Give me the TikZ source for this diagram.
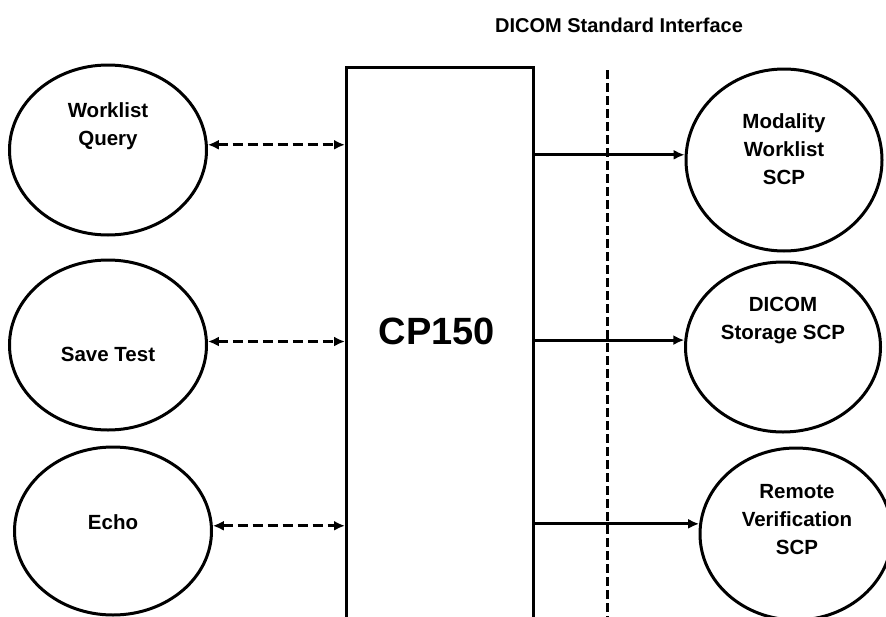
\documentclass[tikz,border=0pt]{standalone}
\usepackage{fontspec}
\setmainfont{Liberation Sans}
\usetikzlibrary{shapes.geometric,arrows.meta}
\begin{document}
\begin{tikzpicture}[x=1pt,y=-1pt,
  proc/.style={draw,ellipse,line width=3pt,minimum width=197pt,minimum height=170pt,inner sep=0pt},
  lbl/.style={font=\bfseries\fontsize{20.5}{28}\selectfont,align=center,inner sep=0pt},
  dlink/.style={line width=3pt,dash pattern=on 10pt off 5pt,{Latex[length=11pt,width=10pt]}-{Latex[length=11pt,width=10pt]}},
  slink/.style={line width=3pt,-{Latex[length=11pt,width=10pt]}}]
\useasboundingbox (0,0) rectangle (886,616);
\clip (0,0) rectangle (886,616);
% left ellipses
\node[proc] (wq) at (108,150) {};
\node[lbl] (wqt) at (108,126) {Worklist\\Query};
\node[proc] (st) at (108,345) {};
\node[lbl] (stt) at (108,354) {Save Test};
\node[proc,minimum height=168pt] (ec) at (113,531) {};
\node[lbl] (ect) at (113,522) {Echo};
% central box
\node[draw,line width=3pt,minimum width=187pt,minimum height=580pt,anchor=north west,inner sep=0pt] (box) at (345,66) {};
\node[font=\bfseries\fontsize{38}{44}\selectfont,inner sep=0pt] (cp) at (437,331) {CP150};
% interface line
\coordinate (dtop) at (607,70);
\coordinate (dbot) at (607,620);
\draw[line width=3pt,dash pattern=on 9pt off 4pt] (dtop) -- (dbot);
\node[font=\bfseries\fontsize{20}{24}\selectfont,inner sep=0pt] (title) at (619,25) {DICOM Standard Interface};
% right ellipses
\node[proc,minimum width=196pt,minimum height=182pt] (mw) at (784,160) {};
\node[lbl] (mwt) at (784,149) {Modality\\Worklist\\SCP};
\node[proc,minimum width=195pt] (ds) at (783,347) {};
\node[lbl] (dst) at (783,321) {DICOM\\Storage SCP};
\node[proc,minimum width=192pt,minimum height=172pt] (rv) at (796,534) {};
\node[lbl] (rvt) at (797,520) {Remote\\Verification\\SCP};
% connectors
\draw[dlink] (wq.3) -- (wq.3 -| box.west);
\draw[dlink] (st.2) -- (st.2 -| box.west);
\draw[dlink] (ec.3) -- (ec.3 -| box.west);
\draw[slink] (mw.177 -| box.east) -- (mw.177);
\draw[slink] (ds.176 -| box.east) -- (ds.176);
\draw[slink] (rv.174 -| box.east) -- (rv.174);
\end{tikzpicture}
\end{document}
